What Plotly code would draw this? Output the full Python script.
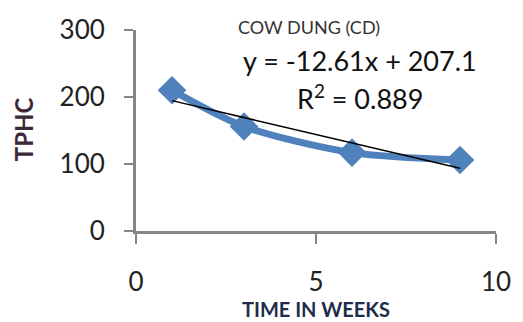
import numpy as np
import plotly.graph_objects as go

weeks = [1, 3, 6, 9]
tphc = [210, 156, 117, 106]
x_ticks = [0, 5, 10]
y_ticks = [0, 100, 200, 300]
title_text = "COW DUNG (CD)"
x_title = "TIME IN WEEKS"
y_title = "TPHC"
eq_text = "y = -12.61x + 207.1"
r2_text = "R<sup>2</sup> = 0.889"

slope, intercept = np.polyfit(weeks, tphc, 1)
trend_x = [min(weeks), max(weeks)]
trend_y = [slope * v + intercept for v in trend_x]

FONT = "Lato"
W, H = 523, 322
L, R, T, B = 136, 20, 30, 91
ph = H - T - B
pw = W - L - R

def py(p):
    return (H - B - p) / ph

def px(p):
    return (p - L) / pw

fig = go.Figure()
fig.add_trace(go.Scatter(
    x=weeks, y=tphc, mode="lines+markers",
    line=dict(color="#4F81BD", width=7, shape="spline", smoothing=0.8),
    marker=dict(symbol="diamond", size=22, color="#4F81BD"),
    showlegend=False, hoverinfo="skip"))
fig.add_trace(go.Scatter(
    x=trend_x, y=trend_y, mode="lines",
    line=dict(color="black", width=1.5),
    showlegend=False, hoverinfo="skip"))

axcol = "#868686"
fig.update_xaxes(range=[0, 10], tickvals=x_ticks, showgrid=False, zeroline=False,
                 showline=True, linecolor=axcol, linewidth=3,
                 ticks="outside", ticklen=10, tickwidth=2, tickcolor=axcol,
                 ticklabelstandoff=16,
                 tickfont=dict(family=FONT, size=26, color="#222222"))
fig.update_yaxes(range=[0, 300], tickvals=y_ticks, showgrid=False, zeroline=False,
                 showline=True, linecolor=axcol, linewidth=3,
                 ticks="outside", ticklen=9, tickwidth=2, tickcolor=axcol,
                 ticklabelstandoff=14,
                 tickfont=dict(family=FONT, size=26, color="#222222"))

ann = [
    dict(text=title_text, x=px(312), y=py(27), font=dict(size=18, color="#333333")),
    dict(text=eq_text, x=px(364), y=py(61), font=dict(size=27, color="#111111")),
    dict(text=r2_text, x=px(364), y=py(97), font=dict(size=27, color="#111111")),
    dict(text="<b>" + x_title + "</b>", x=px(320), y=py(309), font=dict(size=20, color="#1F2D4D")),
    dict(text="<b>" + y_title + "</b>", x=px(21), y=py(129), textangle=-90,
         font=dict(size=24, color="#3A2A3A")),
]
for a in ann:
    a.update(xref="paper", yref="paper", showarrow=False,
             xanchor="center", yanchor="middle")
    a["font"]["family"] = FONT
fig.update_layout(annotations=ann)

fig.update_layout(width=W, height=H, margin=dict(l=L, r=R, t=T, b=B),
                  paper_bgcolor="white", plot_bgcolor="white")
fig.write_html("out.html")
